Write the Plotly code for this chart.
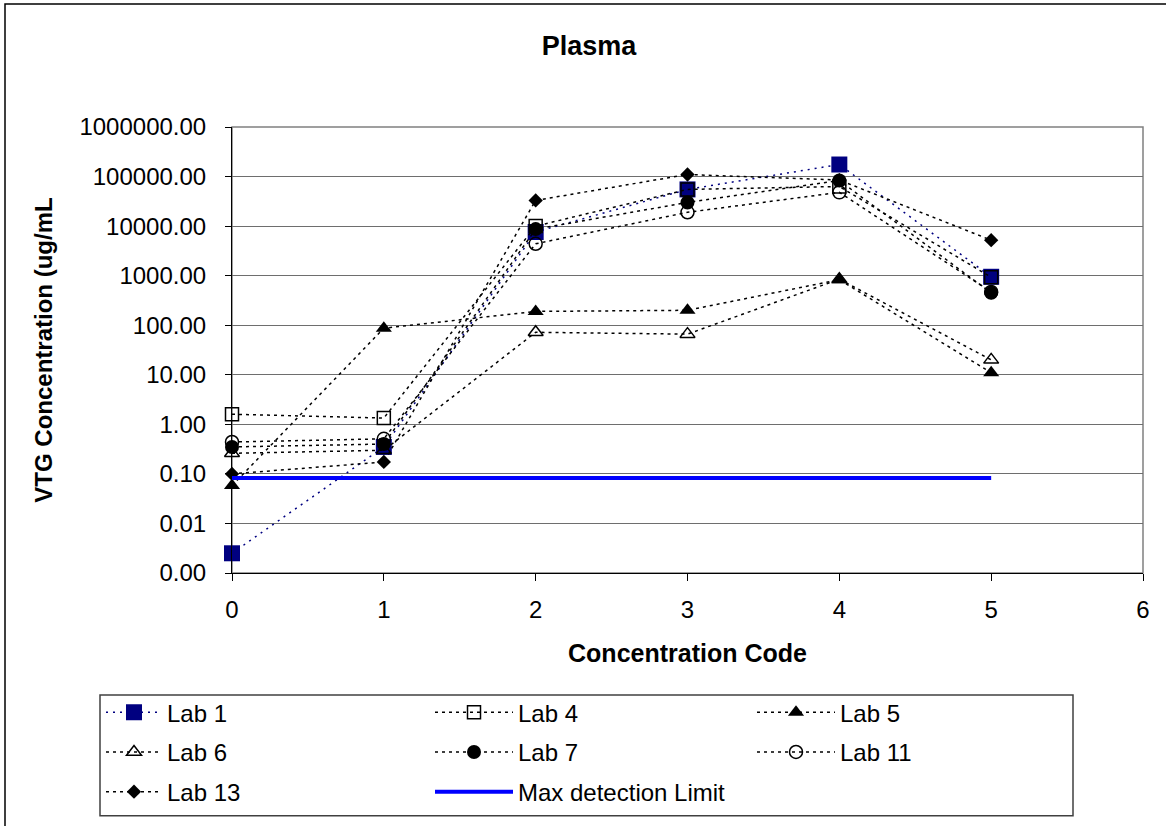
import plotly.graph_objects as go

# ---------------- data ----------------
concentration_code = [0, 1, 2, 3, 4, 5]

lab1 = [0.0025, 0.35, 7600, 55000, 175000, 950]
lab4 = [1.6, 1.34, 10000, 55000, 63000, 930]
lab5 = [0.058, 87, 190, 200, 830, 11]
lab6 = [0.26, 0.30, 72, 66, 850, 20]
lab7 = [0.35, 0.40, 8700, 30000, 83000, 450]
lab11 = [0.44, 0.51, 4400, 19000, 48000, 470]
lab13 = [0.10, 0.174, 33000, 110000, 85000, 5200]
max_detection_limit = [0.083, 0.083, 0.083, 0.083, 0.083, 0.083]

y_tickvals = [0.001, 0.01, 0.1, 1, 10, 100, 1000, 10000, 100000, 1000000]
y_ticktext = ["0.00", "0.01", "0.10", "1.00", "10.00", "100.00", "1000.00",
              "10000.00", "100000.00", "1000000.00"]
x_tickvals = [0, 1, 2, 3, 4, 5, 6]

# ---------------- layout geometry (pixels) ----------------
W, H = 1166, 826
L, R, T, B = 232, 1143, 127, 577
PW, PH = R - L, B - T


def px(xp):
    return (xp - L) / PW


def py(yp):
    return (B - yp) / PH


FONT = "Liberation Sans, Arial, sans-serif"
NAVY = "#000080"
DASH = "3px,4px"

series = [
    ("Lab 1", lab1, dict(symbol="square", size=16, color=NAVY),
     dict(color=NAVY, width=1.5, dash="2px,5px")),
    ("Lab 4", lab4, dict(symbol="square-open", size=13, color="black", line=dict(width=1.5)),
     dict(color="black", width=1.5, dash=DASH)),
    ("Lab 5", lab5, dict(symbol="triangle-up", size=14, color="black"),
     dict(color="black", width=1.5, dash=DASH)),
    ("Lab 6", lab6, dict(symbol="triangle-up-open", size=13, color="black", line=dict(width=1.5)),
     dict(color="black", width=1.5, dash=DASH)),
    ("Lab 7", lab7, dict(symbol="circle", size=14, color="black"),
     dict(color="black", width=1.5, dash=DASH)),
    ("Lab 11", lab11, dict(symbol="circle-open", size=13, color="black", line=dict(width=1.5)),
     dict(color="black", width=1.5, dash=DASH)),
    ("Lab 13", lab13, dict(symbol="diamond", size=11, color="black"),
     dict(color="black", width=1.5, dash=DASH)),
]

legend_ids = ["legend", "legend2", "legend3", "legend4",
              "legend5", "legend6", "legend7", "legend8"]
# (line start x, row y, symbol width) for each legend entry
legend_slots = [(106, 718, 56), (435, 718, 78), (757, 718, 78),
                (106, 758, 56), (435, 758, 78), (757, 758, 78),
                (106, 798, 56), (435, 798, 78)]

fig = go.Figure()

for i, (name, vals, mk, ln) in enumerate(series):
    fig.add_trace(go.Scatter(
        x=concentration_code, y=vals, name=name, mode="lines+markers",
        marker=mk, line=ln, cliponaxis=False, legend=legend_ids[i],
    ))

fig.add_trace(go.Scatter(
    x=concentration_code, y=max_detection_limit, name="Max detection Limit",
    mode="lines", line=dict(color="#0000FF", width=4), cliponaxis=False,
    legend=legend_ids[7],
))

layout_legends = {}
for lid, (lx, ly, iw) in zip(legend_ids, legend_slots):
    layout_legends[lid] = dict(
        x=px(lx - 5), y=py(ly), xanchor="left", yanchor="middle",
        orientation="h", bgcolor="rgba(0,0,0,0)", borderwidth=0,
        font=dict(family=FONT, size=24, color="black"), itemwidth=iw,
    )

fig.update_layout(
    width=W, height=H,
    margin=dict(l=L, r=W - R, t=T, b=H - B, pad=0),
    paper_bgcolor="white", plot_bgcolor="white",
    font=dict(family=FONT, size=24, color="black"),
    showlegend=True,
    title=dict(text="<b>Plasma</b>", font=dict(family=FONT, size=27, color="black"),
               x=589 / W, xref="container", xanchor="center",
               y=1 - 46 / H, yref="container", yanchor="middle"),
    xaxis=dict(
        range=[0, 6], tickvals=x_tickvals, ticks="outside", ticklen=7, tickcolor="black",
        showline=True, linecolor="black", linewidth=1, showgrid=False, zeroline=False,
        tickfont=dict(family=FONT, size=24, color="black"), ticklabelstandoff=8,
        title=dict(text="<b>Concentration Code</b>", standoff=22,
                   font=dict(family=FONT, size=25, color="black")),
    ),
    yaxis=dict(
        type="log", range=[-3, 6], tickvals=y_tickvals, ticktext=y_ticktext,
        ticks="outside", ticklen=6, tickcolor="black",
        showline=True, linecolor="black", linewidth=1,
        showgrid=True, gridcolor="#6e6e6e", gridwidth=1, zeroline=False,
        tickfont=dict(family=FONT, size=24, color="black"), ticklabelstandoff=14,
        title=dict(text="<b>VTG Concentration (ug/mL</b>", standoff=20,
                   font=dict(family=FONT, size=24, color="black")),
    ),
    shapes=[
        # plot-area frame (gray)
        dict(type="rect", xref="paper", yref="paper", x0=0, x1=1, y0=0, y1=1,
             line=dict(color="#808080", width=1.5), layer="below"),
        # legend box
        dict(type="rect", xref="paper", yref="paper",
             x0=px(100), x1=px(1073), y0=py(822), y1=py(700),
             line=dict(color="#404040", width=1.5), layer="below"),
        # outer chart border
        dict(type="rect", xref="paper", yref="paper",
             x0=px(5), x1=px(1180), y0=py(840), y1=py(3),
             line=dict(color="black", width=1.5), layer="below"),
    ],
    **layout_legends,
)

fig.write_html("out.html")
